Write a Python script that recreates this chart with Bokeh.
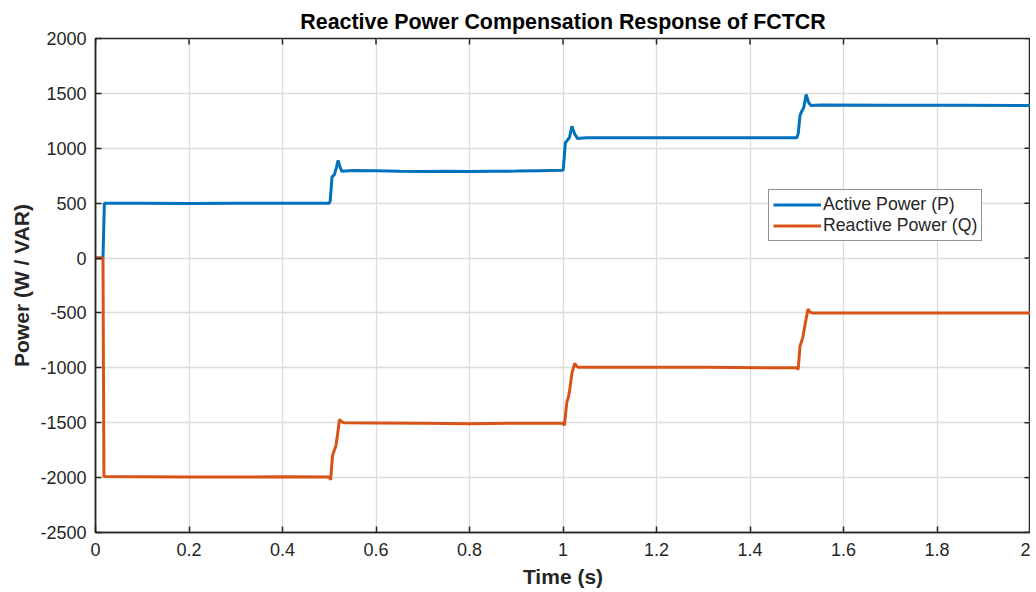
import math
from bokeh.plotting import figure
from bokeh.models import Range1d, FixedTicker, Legend, LegendItem
from bokeh.embed import file_html
from bokeh.resources import INLINE

# Active power P (W)
t_p = [0.0, 0.016, 0.019, 0.1, 0.2, 0.3, 0.4, 0.5, 0.502, 0.506, 0.511, 0.515, 0.519, 0.523, 0.527,
       0.55, 0.6, 0.65, 0.7, 0.75, 0.8, 0.85, 0.9, 0.95, 1.0, 1.001, 1.005, 1.008, 1.014, 1.019, 1.025,
       1.031, 1.05, 1.2, 1.3, 1.4, 1.5, 1.503, 1.507, 1.51, 1.515, 1.52, 1.525, 1.53, 1.55, 1.7, 1.85, 2.0]
p_val = [0, 0, 500, 500, 498, 500, 500, 500, 520, 740, 760, 820, 890, 830, 790,
         798, 795, 790, 788, 790, 788, 790, 792, 796, 800, 830, 1050, 1065, 1100, 1200, 1130,
         1090, 1095, 1095, 1095, 1095, 1095, 1130, 1300, 1330, 1370, 1490, 1420, 1390, 1395, 1392, 1392, 1390]

# Reactive power Q (VAR)
t_q = [0.0, 0.016, 0.018, 0.1, 0.2, 0.3, 0.4, 0.5, 0.503, 0.507, 0.510, 0.514, 0.518, 0.522, 0.526, 0.531,
       0.6, 0.7, 0.8, 0.9, 1.0, 1.003, 1.008, 1.012, 1.014, 1.019, 1.025, 1.029, 1.033,
       1.1, 1.3, 1.5, 1.503, 1.507, 1.511, 1.513, 1.518, 1.524, 1.529, 1.535, 1.6, 1.8, 2.0]
q_val = [0, 0, -1990, -1992, -1995, -1995, -1993, -1995, -2020, -1800, -1760, -1715, -1600, -1470, -1490, -1500,
         -1502, -1505, -1510, -1505, -1505, -1525, -1320, -1257, -1211, -1050, -960, -985, -995,
         -995, -995, -1000, -1015, -800, -752, -722, -600, -465, -495, -500, -500, -500, -500]

x_ticks = [0, 0.2, 0.4, 0.6, 0.8, 1.0, 1.2, 1.4, 1.6, 1.8, 2.0]
x_tick_labels = ["0", "0.2", "0.4", "0.6", "0.8", "1", "1.2", "1.4", "1.6", "1.8", "2"]
y_ticks = [-2500, -2000, -1500, -1000, -500, 0, 500, 1000, 1500, 2000]
y_tick_labels = ["-2500", "-2000", "-1500", "-1000", "-500", "0", "500", "1000", "1500", "2000"]
x_min, x_max = 0, 2
y_min, y_max = -2500, 2000

FONT = "Liberation Sans"
TXT = "#262626"

p = figure(width=1030, height=590, output_backend="svg", toolbar_location=None,
           x_range=Range1d(x_min, x_max), y_range=Range1d(y_min, y_max),
           min_border_left=95, min_border_right=0, min_border_top=38, min_border_bottom=0,
           title="Reactive Power Compensation Response of FCTCR")
p.title.text_font = FONT
p.title.text_font_size = "21.4px"
p.title.text_font_style = "bold"
p.title.align = "center"
p.title.text_color = "#000000"
p.title.offset = 0

p.outline_line_color = "#262626"
p.outline_line_width = 1.5
p.background_fill_color = "white"
p.border_fill_color = "white"

p.xgrid.ticker = FixedTicker(ticks=x_ticks)
p.ygrid.ticker = FixedTicker(ticks=y_ticks)
for g in (p.xgrid, p.ygrid):
    g.grid_line_color = "#dcdcdc"
    g.grid_line_width = 1.3

xa = p.xaxis[0]
xa.ticker = FixedTicker(ticks=x_ticks)
xa.major_label_overrides = {t: l for t, l in zip(x_ticks, x_tick_labels)}
xa.axis_label = "Time (s)"
ya = p.yaxis[0]
ya.ticker = FixedTicker(ticks=y_ticks)
ya.major_label_overrides = {t: l for t, l in zip(y_ticks, y_tick_labels)}
ya.axis_label = "Power (W / VAR)"
for ax in (xa, ya):
    ax.axis_line_color = "#262626"
    ax.axis_line_width = 1.5
    ax.major_tick_in = 6
    ax.major_tick_out = 0
    ax.major_tick_line_color = "#262626"
    ax.major_tick_line_width = 1.5
    ax.minor_tick_line_color = None
    ax.major_label_text_font = FONT
    ax.major_label_text_font_size = "18px"
    ax.major_label_text_color = TXT
    ax.axis_label_text_font = FONT
    ax.axis_label_text_font_size = "21px"
    ax.axis_label_text_font_style = "bold"
    ax.axis_label_text_color = TXT
xa.major_label_standoff = 10
xa.axis_label_standoff = 6
ya.major_label_standoff = 9
ya.axis_label_standoff = 4

# box ticks on top and right (short screen-length rays from the frame edges)
p.ray(x=x_ticks, y=[y_max] * len(x_ticks), length=6, length_units="screen",
      angle=-math.pi / 2, line_color="#262626", line_width=1.5)
p.ray(x=[x_max] * len(y_ticks), y=y_ticks, length=6, length_units="screen",
      angle=math.pi, line_color="#262626", line_width=1.5)

r_p = p.line(t_p, p_val, line_color="#0072BD", line_width=3)
r_q = p.line(t_q, q_val, line_color="#D95319", line_width=3)

leg = Legend(items=[LegendItem(label="Active Power (P)", renderers=[r_p]),
                    LegendItem(label="Reactive Power (Q)", renderers=[r_q])],
             location=(673, 291))
leg.border_line_color = "#262626"
leg.border_line_width = 1.5
leg.background_fill_color = "white"
leg.background_fill_alpha = 1
leg.label_text_font = FONT
leg.label_text_font_size = "17.7px"
leg.label_text_color = "#262626"
leg.padding = 4
leg.spacing = 0
leg.margin = 0
leg.glyph_width = 48
leg.glyph_height = 21
leg.label_height = 21
leg.label_standoff = 2
p.add_layout(leg, "center")

open("out.html", "w").write(file_html(p, INLINE))
